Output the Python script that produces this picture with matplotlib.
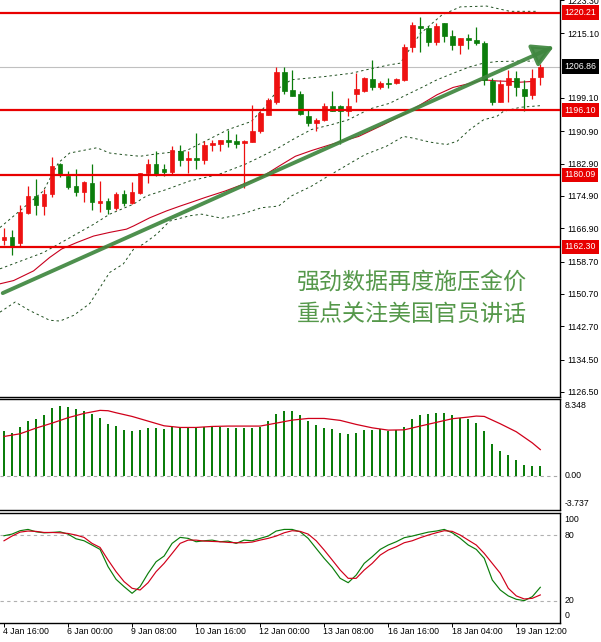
import matplotlib
matplotlib.use('Agg')
import matplotlib.pyplot as plt
from matplotlib.patches import FancyArrowPatch

plt.rcParams['font.family'] = ['Liberation Sans', 'DejaVu Sans']

# ---------------- data ----------------
opens = [1164.07, 1164.64, 1163.4, 1170.8, 1174.9, 1172.4, 1175.3, 1182.7, 1179.8, 1177.3,
         1175.95, 1178.2, 1173.2, 1173.7, 1171.9, 1175.3, 1173.2, 1175.7, 1180.5, 1182.7,
         1181.45, 1180.9, 1186.1, 1183.9, 1184.3, 1183.7, 1187.6, 1187.7, 1188.8, 1188.4,
         1188.0, 1188.2, 1190.9, 1194.97, 1198.2, 1205.4, 1201.1, 1200.0, 1194.7, 1192.9,
         1193.6, 1197.0, 1197.1, 1195.8, 1200.0, 1200.9, 1203.8, 1201.7, 1202.9, 1202.7,
         1203.6, 1211.6, 1216.9, 1216.4, 1213.0, 1217.7, 1214.5, 1212.2, 1214.0, 1213.4,
         1212.8, 1203.4, 1198.2, 1202.3, 1204.0, 1201.4, 1199.9, 1204.4]
highs = [1167.0, 1166.5, 1172.7, 1177.3, 1179.1, 1176.6, 1184.5, 1183.1, 1181.0, 1181.6,
         1178.6, 1182.7, 1178.6, 1174.5, 1175.9, 1176.3, 1178.3, 1180.6, 1184.1, 1185.95,
         1182.7, 1187.2, 1187.4, 1186.0, 1190.45, 1188.4, 1188.6, 1188.8, 1191.1, 1190.1,
         1188.8, 1197.4, 1195.8, 1199.1, 1206.8, 1206.8, 1206.0, 1200.7, 1196.4, 1194.1,
         1197.8, 1200.7, 1197.4, 1199.0, 1205.2, 1204.4, 1208.5, 1203.3, 1204.1, 1204.0,
         1212.4, 1217.9, 1219.0, 1216.9, 1217.5, 1217.7, 1215.9, 1214.0, 1214.9, 1216.7,
         1213.2, 1204.1, 1203.6, 1206.0, 1205.8, 1203.6, 1206.3, 1207.5]
lows = [1162.85, 1160.4, 1162.3, 1170.5, 1170.2, 1170.2, 1174.6, 1179.6, 1176.5, 1174.9,
        1173.4, 1171.4, 1171.0, 1170.4, 1171.4, 1172.4, 1172.85, 1175.3, 1178.2, 1179.8,
        1179.8, 1180.2, 1182.3, 1180.6, 1181.45, 1182.8, 1186.0, 1186.0, 1186.9, 1186.8,
        1176.9, 1188.2, 1190.45, 1194.8, 1197.6, 1200.0, 1199.5, 1195.0, 1192.3, 1191.0,
        1193.3, 1195.8, 1187.7, 1194.6, 1198.2, 1200.5, 1201.1, 1201.4, 1201.5, 1202.5,
        1203.2, 1210.4, 1210.4, 1211.9, 1212.3, 1213.0, 1211.0, 1209.9, 1211.2, 1212.2,
        1202.3, 1197.3, 1198.1, 1198.0, 1199.5, 1195.8, 1198.8, 1202.3]
closes = [1164.64, 1162.6, 1170.96, 1174.9, 1172.6, 1175.3, 1182.4, 1180.1, 1177.2, 1175.9,
          1178.3, 1173.4, 1173.66, 1171.6, 1175.5, 1173.2, 1175.95, 1180.6, 1182.7, 1180.2,
          1180.85, 1186.2, 1183.9, 1184.2, 1183.9, 1187.4, 1188.0, 1188.8, 1188.2, 1187.85,
          1188.4, 1190.9, 1195.4, 1198.7, 1205.4, 1200.9, 1199.7, 1195.2, 1192.9, 1193.7,
          1197.0, 1196.0, 1196.0, 1197.2, 1201.4, 1204.0, 1201.9, 1202.9, 1202.5, 1203.8,
          1211.8, 1217.1, 1216.3, 1213.0, 1216.9, 1214.4, 1212.2, 1214.0, 1213.4, 1212.6,
          1203.6, 1198.2, 1202.5, 1204.0, 1201.9, 1199.7, 1204.1, 1206.86]

bb_upper_idx = [-0.5, 4.9, 6.8, 8.2, 11.6, 13.2, 14.9, 17.0, 19.1, 22.8, 25.1, 28.0, 30.9,
                33.0, 34.3, 35.9, 40.1, 43.4, 45.1, 48.2, 49.5, 52.0, 54.7, 57.0, 60.3, 63.2, 66.6]
bb_upper = [1167.1, 1176.1, 1183.1, 1185.5, 1186.8, 1185.5, 1185.1, 1184.7, 1185.3, 1186.1,
            1188.4, 1191.3, 1193.3, 1197.8, 1201.5, 1203.6, 1204.4, 1205.2, 1206.0, 1207.3,
            1207.7, 1215.0, 1219.6, 1221.6, 1221.8, 1220.5, 1220.5]
bb_mid_idx = [-0.5, 4.9, 6.8, 11.2, 13.2, 16.2, 17.8, 20.3, 23.2, 26.8, 30.1, 32.2, 34.3, 36.4,
              38.4, 40.9, 43.0, 45.7, 48.2, 49.9, 52.0, 54.1, 56.1, 58.2, 59.9, 61.6, 64.1, 66.1]
bb_mid = [1156.9, 1160.9, 1163.0, 1167.9, 1170.4, 1172.9, 1174.9, 1176.5, 1178.6, 1180.2,
          1182.7, 1184.7, 1186.8, 1189.2, 1191.3, 1192.5, 1193.7, 1196.4, 1197.8, 1199.5,
          1201.5, 1203.6, 1205.2, 1206.8, 1207.7, 1208.1, 1208.2, 1208.2]
bb_lower_idx = [-0.5, 1.4, 3.2, 5.7, 7.0, 8.7, 10.7, 12.0, 13.2, 14.9, 16.2, 17.4, 19.1, 20.7,
                23.2, 24.7, 27.2, 29.7, 32.2, 34.3, 35.9, 38.4, 40.5, 43.0, 45.1, 47.8, 49.9,
                51.1, 53.2, 55.3, 56.6, 58.2, 59.9, 61.6, 62.4, 64.5, 67.0]
bb_lower = [1146.2, 1148.7, 1146.6, 1144.2, 1144.0, 1145.4, 1148.3, 1152.3, 1156.0, 1158.1,
            1161.8, 1163.0, 1165.5, 1168.7, 1170.0, 1170.4, 1169.4, 1170.4, 1172.0, 1172.4,
            1174.9, 1177.3, 1179.8, 1182.7, 1185.1, 1187.2, 1189.6, 1189.2, 1188.2, 1187.6,
            1188.4, 1191.3, 1193.7, 1194.6, 1195.8, 1196.8, 1197.2]
ma_idx = [-0.5, 1.2, 3.7, 5.7, 7.2, 9.1, 11.2, 13.2, 15.3, 16.2, 18.2, 20.3, 22.0, 23.2, 25.1,
          27.6, 29.9, 32.2, 34.3, 36.4, 38.4, 40.5, 42.2, 44.3, 47.4, 49.9, 52.0, 54.1, 56.1,
          58.2, 59.9, 61.6, 63.2, 64.5, 66.1]
ma = [1153.2, 1154.0, 1156.4, 1159.7, 1161.8, 1163.4, 1165.0, 1165.9, 1166.7, 1167.5, 1169.5,
      1171.2, 1172.4, 1173.2, 1174.5, 1176.1, 1177.8, 1179.6, 1182.2, 1184.7, 1186.1, 1187.4,
      1188.4, 1189.6, 1192.5, 1195.0, 1197.4, 1199.9, 1201.7, 1202.7, 1203.6, 1203.3, 1203.2,
      1203.0, 1203.2]

levels = [1220.21, 1196.10, 1180.09, 1162.30]
last_price = 1206.86
price_ticks = [1223.30, 1215.10, 1199.10, 1190.90, 1182.90, 1174.90, 1166.90, 1158.70,
               1150.70, 1142.70, 1134.50, 1126.50]
trend_start = (-0.16, 1150.9)
trend_end = (68.7, 1211.8)
headline = ["强劲数据再度施压金价", "重点关注美国官员讲话"]

macd_hist = [4.85, 4.67, 5.32, 5.94, 6.12, 6.56, 7.33, 7.58, 7.51, 7.29,
             7.04, 6.67, 6.23, 5.58, 5.40, 4.96, 4.85, 4.96, 5.14, 5.14,
             5.03, 5.32, 5.21, 5.21, 5.14, 5.32, 5.32, 5.32, 5.21, 5.21,
             5.14, 5.14, 5.32, 5.94, 6.74, 7.04, 7.04, 6.56, 5.94, 5.47,
             5.21, 5.03, 4.67, 4.56, 4.67, 4.92, 4.96, 5.03, 4.85, 4.92,
             5.32, 6.12, 6.56, 6.67, 6.85, 6.85, 6.56, 6.31, 6.12, 5.76,
             4.85, 3.46, 2.73, 2.30, 1.71, 1.13, 1.02, 1.02]
signal_idx = [0, 2, 4, 6, 8, 10, 12, 13, 14, 16, 18, 20, 22, 24, 26, 28, 30, 32, 34, 36,
              38, 40, 42, 44, 46, 48, 50, 52, 54, 56, 58, 59, 60, 62, 64, 66, 67]
signal = [4.27, 4.56, 5.18, 5.72, 6.31, 6.78, 7.11, 7.07, 6.85, 6.45, 5.94, 5.43, 5.25, 5.25,
          5.36, 5.40, 5.40, 5.40, 5.72, 6.05, 6.23, 6.23, 6.02, 5.58, 5.21, 4.96, 4.99, 5.40,
          5.80, 6.20, 6.38, 6.49, 6.45, 5.65, 4.78, 3.57, 2.84]
macd_labels = ["8.348", "0.00", "-3.737"]
macd_top, macd_bottom = 8.348, -3.737

stoch_k = [79.4, 80.9, 84.0, 85.2, 83.0, 82.1, 82.4, 83.0, 80.9, 76.6,
           74.8, 70.9, 66.9, 51.1, 39.5, 32.8, 26.7, 32.8, 45.0, 55.6,
           60.8, 72.4, 77.9, 77.0, 73.9, 74.8, 75.4, 73.9, 74.5, 72.4,
           75.4, 74.8, 77.0, 79.1, 83.7, 85.2, 85.2, 83.0, 77.0, 67.8,
           58.7, 50.5, 40.4, 36.4, 43.4, 54.1, 60.2, 66.9, 70.9, 73.9,
           77.6, 79.1, 80.9, 82.7, 83.7, 85.2, 82.1, 77.0, 70.9, 66.9,
           58.7, 38.9, 29.7, 24.3, 21.2, 20.0, 23.6, 32.2]
stoch_d = [74.8, 79.1, 82.7, 83.7, 83.4, 82.4, 82.4, 82.1, 81.5, 80.0,
           77.9, 72.4, 68.7, 57.2, 46.5, 37.4, 31.3, 29.7, 36.4, 46.5,
           54.1, 63.2, 72.4, 75.4, 75.4, 74.5, 74.2, 73.9, 73.3, 73.0,
           73.0, 73.6, 75.4, 77.0, 79.1, 82.1, 84.0, 83.4, 80.9, 74.8,
           66.3, 57.2, 48.0, 40.4, 40.4, 48.0, 54.1, 61.7, 66.3, 69.3,
           73.0, 74.8, 77.6, 80.0, 82.1, 84.0, 83.4, 80.0, 75.4, 70.9,
           63.2, 54.1, 45.0, 31.3, 24.3, 21.5, 22.1, 25.2]
stoch_levels = [80, 20]

time_idx = [0, 8, 16, 24, 32, 40, 48, 56, 64]
time_labels = ["4 Jan 16:00", "6 Jan 00:00", "9 Jan 08:00", "10 Jan 16:00", "12 Jan 00:00",
               "13 Jan 08:00", "16 Jan 16:00", "18 Jan 04:00", "19 Jan 12:00"]

# ---------------- styling ----------------
RED = '#ee1111'
GREEN = '#0b7d0b'
LEVEL_RED = '#e80000'
FS = 6.3

W, H = 601, 642
fig = plt.figure(figsize=(W / 100, H / 100), dpi=100)
fig.patch.set_facecolor('white')


def rect(x0, y0, x1, y1):
    return [x0 / W, 1 - y1 / H, (x1 - x0) / W, (y1 - y0) / H]


ax1 = fig.add_axes(rect(0, 0, 560, 397))
ax2 = fig.add_axes(rect(0, 399, 560, 510))
ax3 = fig.add_axes(rect(0, 512.7, 560, 623))

XLIM = (-0.5, 69.46)
for ax in (ax1, ax2, ax3):
    ax.set_xlim(*XLIM)
    ax.set_facecolor('white')
    for s in ax.spines.values():
        s.set_color('black')
        s.set_linewidth(1.0)
    ax.spines['left'].set_visible(False)
    ax.tick_params(axis='x', bottom=False, labelbottom=False)
    ax.yaxis.tick_right()
ax1.spines['top'].set_visible(False)

# ---------- price panel ----------
ax1.set_ylim(1125.24, 1222.82)
n = len(opens)
for i in range(n):
    o, h, l, c = opens[i], highs[i], lows[i], closes[i]
    col = RED if c >= o else GREEN
    ax1.vlines(i, l, h, color=col, linewidth=0.9, zorder=3)
    ax1.bar(i, max(abs(c - o), 0.05), bottom=min(o, c), width=0.6, color=col,
            edgecolor=col, linewidth=0.5, zorder=4)

dash = (0, (2.5, 3))
ax1.plot(bb_upper_idx, bb_upper, color='#1f4f1f', lw=0.7, ls=dash, zorder=2)
ax1.plot(bb_mid_idx, bb_mid, color='#1f4f1f', lw=0.7, ls=dash, zorder=2)
ax1.plot(bb_lower_idx, bb_lower, color='#1f4f1f', lw=0.7, ls=dash, zorder=2)
ax1.plot(ma_idx, ma, color='#c8001e', lw=0.8, zorder=2)

for lv in levels:
    ax1.axhline(lv, color=LEVEL_RED, lw=1.6, zorder=5)
ax1.axhline(last_price, color='#c0c0c0', lw=0.8, zorder=1)

arrow = FancyArrowPatch(trend_start, trend_end,
                        arrowstyle='-|>,head_length=0.9,head_width=0.5',
                        mutation_scale=14, color='#3f873f', lw=2.8, alpha=0.92,
                        shrinkA=0, shrinkB=0, zorder=6)
ax1.add_patch(arrow)

ax1.set_yticks(price_ticks)
ax1.set_yticklabels([f'{v:.2f}' for v in price_ticks])
ax1.tick_params(axis='y', right=True, direction='out', length=3, width=0.7,
                labelsize=FS, pad=2, colors='black')
for lab in ax1.get_yticklabels():
    lab.set_clip_on(False)

ytr = ax1.get_yaxis_transform()
for lv in levels:
    ax1.annotate(f'{lv:.2f}', xy=(1, lv), xycoords=ytr, xytext=(3.2, 0),
                 textcoords='offset points', ha='left', va='center', fontsize=FS,
                 color='white', zorder=10, annotation_clip=False,
                 bbox=dict(boxstyle='square,pad=0.32', fc=LEVEL_RED, ec='none'))
ax1.annotate(f'{last_price:.2f}', xy=(1, last_price), xycoords=ytr, xytext=(3.2, 0),
             textcoords='offset points', ha='left', va='center', fontsize=FS,
             color='white', zorder=10, annotation_clip=False,
             bbox=dict(boxstyle='square,pad=0.32', fc='black', ec='none'))

ax1.text(0.530, 0.287, headline[0], transform=ax1.transAxes, ha='left', va='center',
         fontsize=16.6, color='#55984a', family=['Noto Sans CJK SC', 'DejaVu Sans'], zorder=7)
ax1.text(0.530, 0.209, headline[1], transform=ax1.transAxes, ha='left', va='center',
         fontsize=16.6, color='#55984a', family=['Noto Sans CJK SC', 'DejaVu Sans'], zorder=7)

# ---------- MACD panel ----------
ax2.set_ylim(macd_bottom, macd_top)
ax2.bar(range(n), macd_hist, width=0.22, color='#0b7d0b', zorder=3)
ax2.plot(signal_idx, signal, color='#d0001a', lw=0.9, zorder=4)
ax2.axhline(0, color='#a8a8a8', lw=0.8, ls=(0, (3, 3)), zorder=1)
ax2.set_yticks([])
ytr2 = ax2.get_yaxis_transform()
ax2.annotate(macd_labels[0], xy=(1, macd_top), xycoords=ytr2, xytext=(3, -1.5),
             textcoords='offset points', ha='left', va='top', fontsize=FS, annotation_clip=False)
ax2.annotate(macd_labels[1], xy=(1, 0), xycoords=ytr2, xytext=(3, 0),
             textcoords='offset points', ha='left', va='center', fontsize=FS, annotation_clip=False)
ax2.annotate(macd_labels[2], xy=(1, macd_bottom), xycoords=ytr2, xytext=(3, 1.5),
             textcoords='offset points', ha='left', va='bottom', fontsize=FS, annotation_clip=False)

# ---------- Stochastic panel ----------
ax3.set_ylim(-0.5, 100.5)
for lv in stoch_levels:
    ax3.axhline(lv, color='#b0b0b0', lw=0.8, ls=(0, (3, 3)), zorder=1)
ax3.plot(range(n), stoch_k, color='#0b7d0b', lw=0.85, zorder=3)
ax3.plot(range(n), stoch_d, color='#d0001a', lw=0.85, zorder=3)
ax3.set_yticks([])
ytr3 = ax3.get_yaxis_transform()
ax3.annotate('100', xy=(1, 100), xycoords=ytr3, xytext=(3, -1.5),
             textcoords='offset points', ha='left', va='top', fontsize=FS, annotation_clip=False)
for lv in stoch_levels:
    ax3.annotate(str(lv), xy=(1, lv), xycoords=ytr3, xytext=(3, 0),
                 textcoords='offset points', ha='left', va='center', fontsize=FS,
                 annotation_clip=False)
ax3.annotate('0', xy=(1, 0), xycoords=ytr3, xytext=(3, 1.5),
             textcoords='offset points', ha='left', va='bottom', fontsize=FS, annotation_clip=False)

ax3.set_xticks(time_idx)
ax3.tick_params(axis='x', bottom=True, direction='out', length=3, width=0.7, labelbottom=False)
xtr3 = ax3.get_xaxis_transform()
for i, lab in zip(time_idx, time_labels):
    ax3.annotate(lab, xy=(i, 0), xycoords=xtr3, xytext=(-0.5, -3.2),
                 textcoords='offset points', ha='left', va='top', fontsize=FS,
                 annotation_clip=False)

fig.savefig('out.png', dpi=100, facecolor='white')
